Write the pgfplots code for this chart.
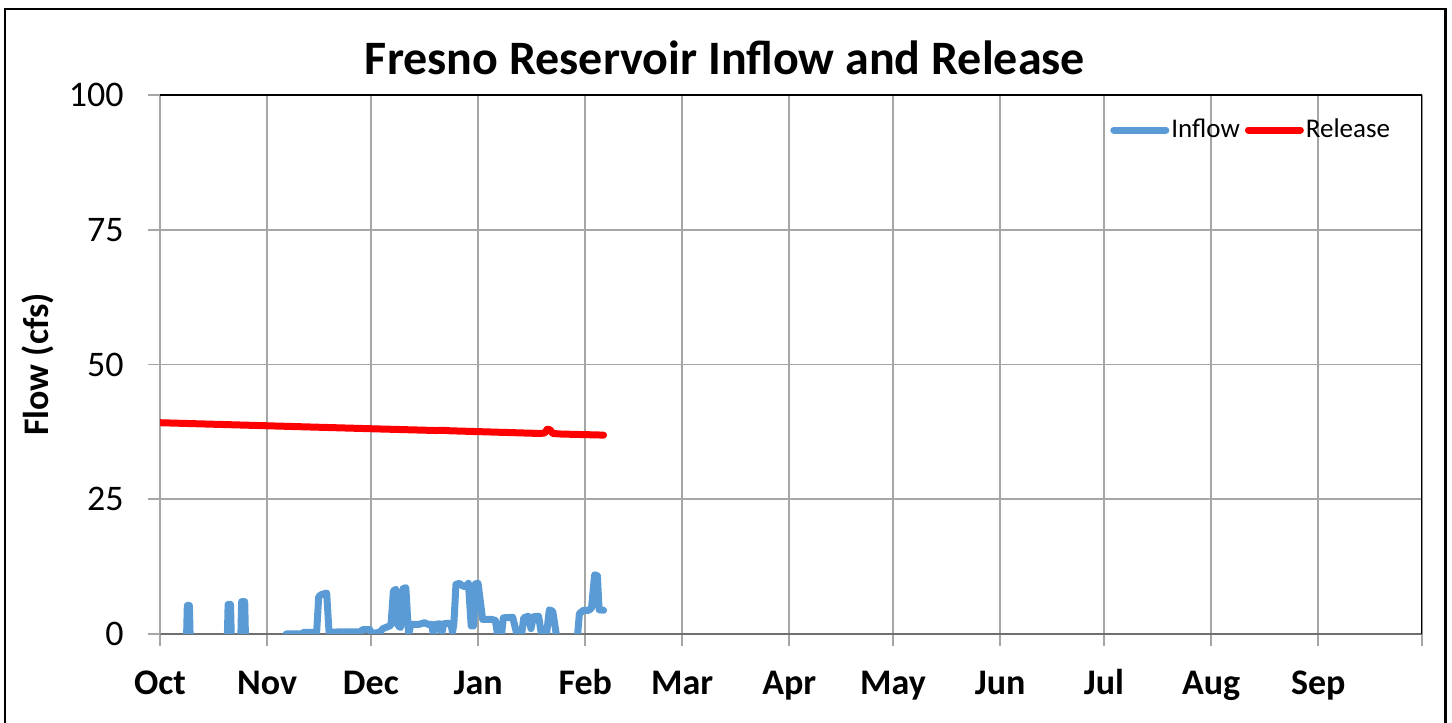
\documentclass[border=0pt]{standalone}
\usepackage{fontspec}
\setmainfont{Carlito}
\usepackage{pgfplots}
\pgfplotsset{compat=1.18}
\definecolor{inflowblue}{HTML}{5B9BD5}
\definecolor{gridgray}{HTML}{A6A6A6}
\definecolor{axisgray}{HTML}{6F6F6F}
\begin{document}
\begin{tikzpicture}
\useasboundingbox (0,0) rectangle (726bp,361.5bp);
\draw[line width=1.2bp] (2.5bp,-20bp) rectangle (722.75bp,357bp);
\node[font=\bfseries\fontsize{24bp}{28bp}\selectfont, anchor=base] at (362.5bp,324bp) {Fresno Reservoir Inflow and Release};
\node[font=\bfseries\fontsize{18bp}{20bp}\selectfont, rotate=90, anchor=center] at (19bp,179.25bp) {Flow (cfs)};
\begin{axis}[
  at={(80bp,44.5bp)}, anchor=south west,
  scale only axis, width=631bp, height=269.5bp,
  xmin=0, xmax=365, ymin=0, ymax=100,
  axis lines=left, axis line style={-},
  x axis line style={draw=axisgray, line width=1.1bp},
  y axis line style={draw=gridgray, line width=1bp},
  xtick={0,31,61,92,123,151,182,212,243,273,304,335,365},
  xticklabels={Oct,Nov,Dec,Jan,Feb,Mar,Apr,May,Jun,Jul,Aug,Sep,},
  ytick={0,25,50,75,100},
  tick align=outside, major tick length=6bp,
  tick style={draw=gridgray, line width=0.9bp},
  grid=major, grid style={draw=gridgray, line width=0.8bp},
  /pgf/number format/assume math mode=true,
  yticklabel style={font=\fontsize{18bp}{20bp}\selectfont, anchor=east, inner sep=0pt, xshift=-12bp},
  xticklabel style={font=\bfseries\fontsize{18bp}{20bp}\selectfont, anchor=base, inner sep=0pt, yshift=-24bp},
  unbounded coords=jump,
  legend style={at={(rel axis cs:0.748,0.935)}, anchor=west, draw=none, fill=none,
    font=\fontsize{13.5bp}{15bp}\selectfont, legend columns=2,
    /tikz/every even column/.append style={column sep=1.5bp},
    nodes={inner sep=1bp}},
  legend image code/.code={\draw[#1, line cap=round] (0bp,0bp) -- (26bp,0bp);},
]
\addplot[inflowblue, line width=3.5bp, line cap=round, line join=round] coordinates {
(7.7,0)(7.9,5.3)(8.5,5.3)(8.7,0)
(9,nan)
(19.5,0)(19.7,5.5)(20.4,5.5)(20.6,0)
(21,nan)
(23.4,0)(23.6,6.0)(24.5,6.0)(24.7,0)
(25,nan)
(36.5,0)(41,0)(41.5,0.3)(45.3,0.3)(45.9,6.9)(46.6,7.3)(48.2,7.6)(48.9,0.3)
(52,0.4)(55,0.4)(58,0.4)(58.5,0.8)(60.7,0.8)(61.2,0.1)(63.5,0.3)(64.5,1.0)(66.8,1.6)
(67.5,8.0)(68.2,8.3)(68.9,1.5)(69.6,1.2)(70.3,8.4)(71.1,8.6)(71.9,0)(72.6,1.8)
(75,1.8)(76.5,2.1)(77.5,1.8)(78.5,1.8)(79.1,0)(79.7,1.8)(81,1.9)(81.5,0.2)(82.1,1.9)
(83.5,2.0)(84.2,1.7)(84.6,0.3)(85,2)(85.6,9.2)(86.6,9.4)(87.6,8.9)(88.3,8.8)(89.2,9.4)
(90,1.5)(90.7,1.5)(91.2,9.3)(92,9.4)(93.3,2.7)(96,2.7)(97,2.5)(97.6,0)(98.8,0)(99.3,3.0)
(102,3.1)(103.2,0)(104.6,0)(105.2,3.0)(106.5,3.3)(107.3,1.0)(108,3.2)(109.5,3.3)(110.3,0)
(111.8,0)(112.6,4.5)(113.6,4.2)(114.6,0)
(116,nan)
(120.8,0)(121.3,3.8)(122.5,4.4)(124,4.4)(124.8,4.8)(125.7,11.0)(126.5,10.8)(127,4.5)(128.3,4.4)
};
\addlegendentry{Inflow}
\addplot[red, line width=3.5bp, line cap=round, line join=round] coordinates {
(0,39.2)(30,38.65)(60,38.1)(80,37.75)(82,37.8)(84,37.7)(110,37.2)(111.3,37.3)
(112,38.0)(112.8,37.9)(113.6,37.2)(116,37.1)(128.3,36.9)
};
\addlegendentry{Release}
\draw[black, line width=1.1bp] (rel axis cs:0,1) -- (rel axis cs:1,1) -- (rel axis cs:1,0);
\end{axis}
\end{tikzpicture}
\end{document}
